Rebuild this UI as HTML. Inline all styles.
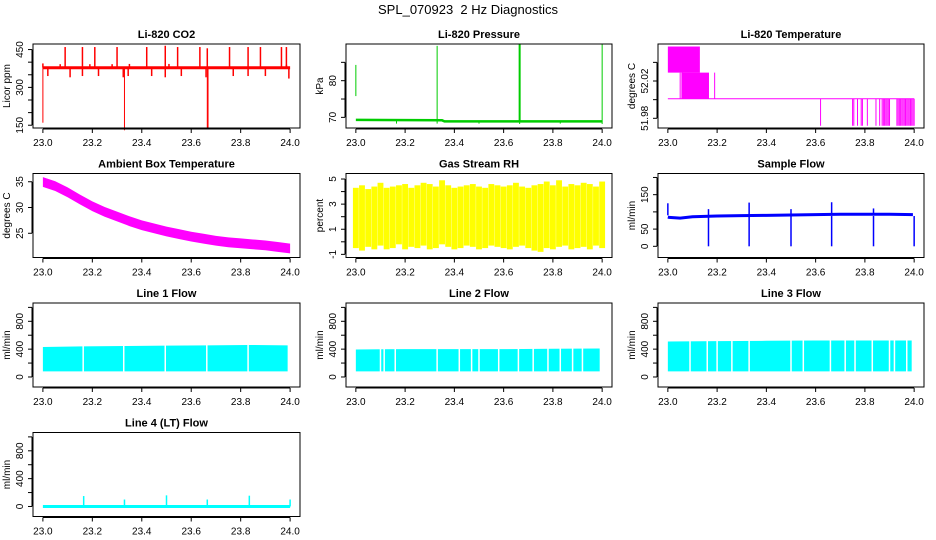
<!DOCTYPE html>
<html><head><meta charset="utf-8"><title>SPL_070923 2 Hz Diagnostics</title>
<style>
html,body{margin:0;padding:0;background:#fff;}
svg{display:block;font-family:"Liberation Sans",Arial,sans-serif;}
.pt{font-weight:bold;font-size:11px;}
.tk{font-size:10px;}
</style></head>
<body>
<svg id="chart" width="936" height="540" viewBox="0 0 936 540">
<rect width="936" height="540" fill="#fff"/>
<text x="468" y="14" text-anchor="middle" font-size="13" style="white-space:pre">SPL_070923  2 Hz Diagnostics</text>
</svg>
<script>
// ---------- data ----------
const xTicks=[23.0,23.2,23.4,23.6,23.8,24.0];
// CO2
const co2Base=378;
const co2UpX=[23.09,23.16,23.21,23.30,23.42,23.495,23.545,23.635,23.665,23.755,23.83,23.88,23.965,23.985];
const co2UpV=[460,460,460,460,460,465,460,460,455,460,460,460,460,460];
const co2SmX=[23.0,23.02,23.07,23.11,23.16,23.19,23.225,23.28,23.325,23.345,23.35,23.44,23.495,23.51,23.56,23.66,23.77,23.83,23.9,23.985,23.995];
const co2SmV=[395,345,392,340,345,392,345,392,340,345,393,345,340,393,345,340,345,345,345,390,335];
const co2DnX=[23.0,23.33,23.665,23.668];
const co2DnV=[160,130,140,140];
// Pressure
const presX=[23.0,23.35,23.36,24.0];
const presV=[69.3,69.2,68.9,68.9];
const presSpX=[23.33,23.665,24.0];
const presSpV=[89.5,90,90];
const presDipX=[23.165,23.33,23.5,23.665,23.83,24.0];
const presDipV=[68.3,68.3,68.3,68.2,68.3,68.2];
const presSegX=[23.0], presSegLo=[75.8], presSegHi=[84.3];
// Li-820 temperature
const tBandX0=[23.0,23.055], tBandX1=[23.13,23.167];
const tBandHi=[52.057,52.029], tBandLo=[52.029,52.001];
const tLineX=[23.0,24.0], tLineV=[52.001,52.001];
const tDropX=[23.05,23.06,23.19,23.62,23.75,23.755,23.77,23.785,23.79,23.81,23.845,23.86,23.87,23.875,23.88,23.885,23.89,23.895,23.90,23.93,23.935,23.94,23.945,23.95,23.955,23.96,23.965,23.97,23.975,23.98,23.985,23.99,23.995,24.0];
const tDropV=[52.029,52.029,52.029,51.972,51.972,51.972,51.972,51.972,51.972,51.972,51.972,51.972,51.972,51.972,51.972,51.972,51.972,51.972,51.972,51.972,51.972,51.972,51.972,51.972,51.972,51.972,51.972,51.972,51.972,51.972,51.972,51.972,51.972,51.972];
// Ambient box temperature
const ambX=[23.0,23.05,23.1,23.15,23.2,23.25,23.3,23.35,23.4,23.45,23.5,23.55,23.6,23.65,23.7,23.75,23.8,23.85,23.9,23.95,24.0];
const ambV=[35.0,34.2,33.0,31.6,30.3,29.2,28.3,27.4,26.6,26.0,25.4,24.9,24.4,24.0,23.6,23.3,23.1,22.9,22.7,22.4,22.1];
// Gas stream RH
const rhX=[23.0,23.025,23.05,23.075,23.1,23.125,23.15,23.175,23.2,23.225,23.25,23.275,23.3,23.325,23.35,23.375,23.4,23.425,23.45,23.475,23.5,23.525,23.55,23.575,23.6,23.625,23.65,23.675,23.7,23.725,23.75,23.775,23.8,23.825,23.85,23.875,23.9,23.925,23.95,23.975,24.0];
const rhHi=[4.3,4.5,4.2,4.4,4.7,4.3,4.4,4.5,4.6,4.3,4.5,4.7,4.6,4.4,4.9,4.5,4.3,4.4,4.5,4.6,4.4,4.3,4.6,4.5,4.4,4.5,4.7,4.4,4.3,4.5,4.6,4.8,4.5,4.9,4.4,4.6,4.5,4.7,4.6,4.4,4.8];
const rhLo=[-0.5,-0.7,-0.4,-0.6,-0.3,-0.6,-0.5,-0.2,-0.6,-0.4,-0.5,-0.3,-0.6,-0.5,-0.2,-0.4,-0.6,-0.5,-0.3,-0.4,-0.6,-0.5,-0.3,-0.4,-0.5,-0.6,-0.4,-0.3,-0.5,-0.7,-0.8,-0.5,-0.6,-0.4,-0.3,-0.6,-0.5,-0.4,-0.6,-0.3,-0.5];
// Sample flow
const sfX=[23.0,23.005,23.05,23.1,23.2,23.3,23.4,23.5,23.6,23.7,23.8,23.9,23.995];
const sfV=[85,84,82,86,88,89,90,91,92,93,93,93,92];
const sfDipX=[23.165,23.33,23.5,23.665,23.835,24.0];
const sfDipV=[0,0,0,0,0,0];
const sfSpX=[23.0,23.165,23.33,23.5,23.665,23.835];
const sfSpV=[125,108,127,108,128,110];
// Line flows
const l1X=[23.0,23.16,23.33,23.5,23.66,23.83,23.99];
const l1Hi=[430,440,445,450,455,460,455];
const l1Lo=80;
const l1Gap=[23.163,23.327,23.495,23.663,23.83];
const l2X=[23.0,23.2,23.4,23.6,23.8,23.99];
const l2Hi=[395,400,400,400,405,410];
const l2Lo=80;
const l2Gap=[23.1,23.115,23.16,23.33,23.42,23.47,23.5,23.58,23.66,23.72,23.78,23.83,23.88,23.92];
const l3X=[23.0,23.2,23.4,23.6,23.8,23.99];
const l3Hi=[510,515,520,525,525,525];
const l3Lo=80;
const l3Gap=[23.09,23.16,23.2,23.26,23.33,23.5,23.55,23.66,23.72,23.76,23.83,23.9,23.92,23.97];
// Line 4
const l4Base=0;
const l4SpX=[23.165,23.33,23.5,23.665,23.835,24.0];
const l4SpV=[150,100,160,100,155,100];

// ---------- layout ----------
const NS='http://www.w3.org/2000/svg';
const svg=document.getElementById('chart');
const cols=[[33,300],[346,612],[658,924]];
const rows=[44,173.5,303,432.5];
const PH=84;
function mk(tag,attrs,parent){const e=document.createElementNS(NS,tag);for(const k in attrs)e.setAttribute(k,attrs[k]);(parent||svg).appendChild(e);return e;}

function panel(c,r,title,ytitle,ylim,yticks,ylabels,name){
  const x0=cols[c][0],x1=cols[c][1],y0=rows[r],y1=rows[r]+PH;
  const g=mk('g',{});
  
  
  const w=x1-x0, dx=w/1.08, xs=x0+w*0.04/1.08;
  const X=v=>xs+(v-23)*dx;
  const Y=v=>y1-(v-ylim[0])/(ylim[1]-ylim[0])*PH;
  const plot=mk('g',{},g);
  
  
  const frame=mk('rect',{x:x0,y:y0,width:w,height:PH,fill:'none',stroke:'#000','stroke-width':1},g);
  
  
  const t=mk('text',{x:(x0+x1)/2,y:y0-6,'text-anchor':'middle',class:'pt'},g);
  t.textContent=title;
  
  
  const xa=mk('g',{},g);
  
  
  mk('line',{x1:X(xTicks[0]),x2:X(xTicks[xTicks.length-1]),y1:y1+1,y2:y1+1,stroke:'#000'},xa);
  xTicks.forEach(v=>{mk('line',{x1:X(v),x2:X(v),y1:y1+1,y2:y1+5,stroke:'#000'},xa);
    const l=mk('text',{x:X(v),y:y1+18,'text-anchor':'middle',class:'tk'},xa);l.textContent=v.toFixed(1);});
  const ya=mk('g',{},g);
  
  
  mk('line',{x1:x0-1,x2:x0-1,y1:Y(yticks[0]),y2:Y(yticks[yticks.length-1]),stroke:'#000'},ya);
  yticks.forEach(v=>{mk('line',{x1:x0-1,x2:x0-5,y1:Y(v),y2:Y(v),stroke:'#000'},ya);});
  ylabels.forEach(v=>{const yy=Y(v);const l=mk('text',{x:x0-10,y:yy,'text-anchor':'middle',class:'tk',transform:`rotate(-90 ${x0-10} ${yy})`},ya);l.textContent=String(v);});
  const yt=mk('text',{x:x0-23,y:(y0+y1)/2,'text-anchor':'middle',class:'tk',transform:`rotate(-90 ${x0-23} ${(y0+y1)/2})`},g);
  yt.textContent=ytitle;
  
  
  return {X,Y,g:plot};
}
function vline(p,x,a,b,col,w){mk('line',{x1:p.X(x),x2:p.X(x),y1:p.Y(a),y2:p.Y(b),stroke:col,'stroke-width':w||1},p.g);}
function poly(p,xs,vs,col,w){mk('polyline',{points:xs.map((x,i)=>p.X(x)+','+p.Y(vs[i])).join(' '),fill:'none',stroke:col,'stroke-width':w||1},p.g);}
function band(p,xs,hi,lo,col){const top=xs.map((x,i)=>p.X(x)+','+p.Y(hi[i]));const bot=xs.map((x,i)=>p.X(x)+','+p.Y(Array.isArray(lo)?lo[i]:lo)).reverse();mk('polygon',{points:top.concat(bot).join(' '),fill:col},p.g);}

let p=panel(0,0,'Li-820 CO2','Licor ppm',[139,472],[150,200,250,300,350,400,450],[150,300,450],'co2');
co2SmX.forEach((x,i)=>vline(p,x,co2Base,co2SmV[i],'#f00',1.5));
co2UpX.forEach((x,i)=>vline(p,x,co2Base,co2UpV[i],'#f00',1.5));
co2DnX.forEach((x,i)=>vline(p,x,co2Base,co2DnV[i],'#f00',1));
poly(p,[23.0,24.0],[co2Base,co2Base],'#f00',3);

p=panel(1,0,'Li-820 Pressure','kPa',[67.1,90],[70,75,80,85],[70,80],'pressure');
poly(p,presX,presV,'#00cc00',2.5);
presSpX.forEach((x,i)=>vline(p,x,presV[presV.length-1],presSpV[i],'#00cc00',i==1?2:1));
presDipX.forEach((x,i)=>vline(p,x,69.0,presDipV[i],'#00cc00',1));
presSegX.forEach((x,i)=>vline(p,x,presSegLo[i],presSegHi[i],'#00cc00',1));

p=panel(2,0,'Li-820 Temperature','degrees C',[51.9696,52.0597],[51.98,52.00,52.02,52.04],[51.98,52.02],'li820-temp');
tBandX0.forEach((x,i)=>mk('rect',{x:p.X(x),y:p.Y(tBandHi[i]),width:p.X(tBandX1[i])-p.X(x),height:p.Y(tBandLo[i])-p.Y(tBandHi[i]),fill:'#f0f'},p.g));
poly(p,tLineX,tLineV,'#f0f',1);
tDropX.forEach((x,i)=>vline(p,x,52.001,tDropV[i],'#f0f',1));

p=panel(0,1,'Ambient Box Temperature','degrees C',[20.3,36.6],[25,30,35],[25,30,35],'ambient-temp');
band(p,ambX,ambV.map(v=>v+0.9),ambV.map(v=>v-1.0),'#f0f');

p=panel(1,1,'Gas Stream RH','percent',[-1.25,5.44],[-1,0,1,2,3,4,5],[-1,1,3,5],'gas-rh');
rhX.forEach((x,i)=>{const bw=(p.X(23.025)-p.X(23))*0.95;mk('rect',{x:p.X(x)-bw/2,y:p.Y(rhHi[i]),width:bw,height:p.Y(rhLo[i])-p.Y(rhHi[i]),fill:'#ff0'},p.g);});

p=panel(2,1,'Sample Flow','ml/min',[-32.5,211.5],[0,50,100,150,200],[0,50,150],'sample-flow');
poly(p,sfX,sfV,'#00f',3);
sfDipX.forEach((x,i)=>vline(p,x,88,sfDipV[i],'#00f',1.5));
sfSpX.forEach((x,i)=>vline(p,x,90,sfSpV[i],'#00f',1.5));

function flow(c,r,title,name,xs,hi,lo,gaps){
  const q=panel(c,r,title,'ml/min',[-144,1063],[0,200,400,600,800,1000],[0,400,800],name);
  band(q,xs,hi,xs.map(()=>lo),'#0ff');
  gaps.forEach(x=>vline(q,x,lo-10,1000,'#fff',1.5));
  return q;
}
flow(0,2,'Line 1 Flow','line1-flow',l1X,l1Hi,l1Lo,l1Gap);
flow(1,2,'Line 2 Flow','line2-flow',l2X,l2Hi,l2Lo,l2Gap);
flow(2,2,'Line 3 Flow','line3-flow',l3X,l3Hi,l3Lo,l3Gap);

p=panel(0,3,'Line 4 (LT) Flow','ml/min',[-144,1063],[0,200,400,600,800,1000],[0,400,800],'line4-flow');
poly(p,[23.0,24.0],[l4Base,l4Base],'#0ff',3);
l4SpX.forEach((x,i)=>vline(p,x,l4Base,l4SpV[i],'#0ff',1.5));
</script>
</body></html>
